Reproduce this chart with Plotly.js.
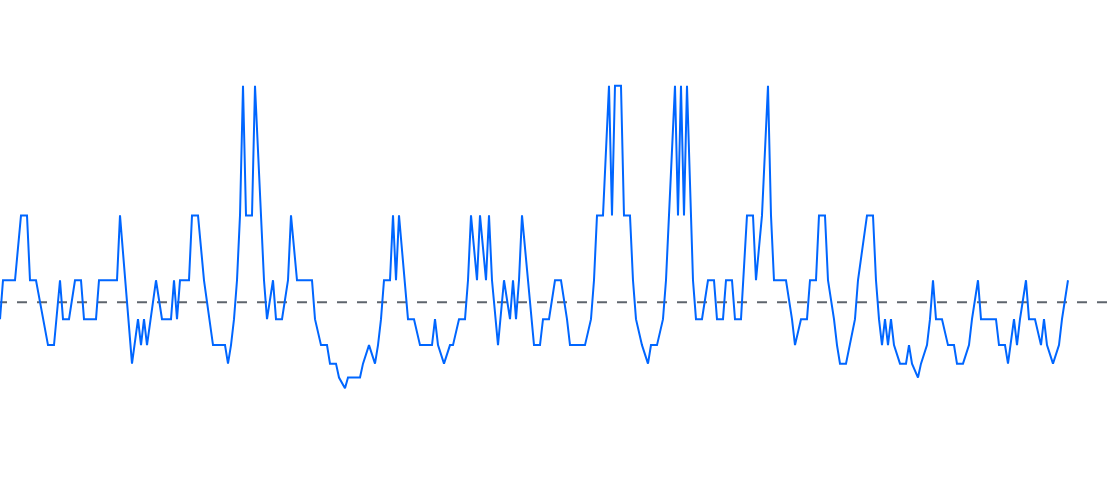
<!DOCTYPE html>
<html>
<head>
<meta charset="utf-8">
<script src="https://cdn.plot.ly/plotly-3.0.1.min.js"></script>
<style>
  html, body { margin: 0; padding: 0; background: #fff; }
  #chart { width: 1112px; height: 480px; }
</style>
</head>
<body>
<div id="chart"></div>
<script>
// sample index of each recorded point
var sample = [
  0, 1, 5, 7, 9, 10, 12, 16, 18, 20,
  21, 23, 25, 27, 28, 32, 33, 39, 40, 44,
  46, 47, 48, 49, 52, 54, 57, 58, 59, 60,
  63, 64, 66, 68, 71, 75, 76, 77, 78, 79,
  80, 81, 82, 84, 85, 88, 89, 91, 92, 94,
  96, 97, 99, 104, 105, 107, 109, 110, 112, 113,
  115, 116, 120, 121, 123, 125, 126, 127, 128, 130,
  131, 132, 133, 136, 138, 140, 144, 145, 146, 148,
  150, 151, 153, 155, 156, 157, 159, 160, 162, 163,
  164, 166, 168, 170, 171, 172, 173, 174, 178, 180,
  181, 183, 185, 187, 189, 190, 195, 197, 198, 199,
  201, 203, 204, 205, 207, 208, 210, 211, 212, 214,
  216, 217, 219, 221, 222, 225, 226, 227, 228, 229,
  231, 232, 234, 236, 238, 239, 241, 242, 244, 245,
  247, 249, 251, 252, 254, 256, 257, 258, 262, 264,
  265, 267, 269, 270, 272, 273, 275, 276, 278, 279,
  280, 282, 285, 286, 289, 291, 292, 293, 294, 295,
  296, 297, 298, 300, 302, 303, 304, 306, 307, 309,
  310, 311, 312, 314, 316, 318, 319, 321, 323, 324,
  326, 327, 332, 333, 335, 336, 338, 339, 340, 342,
  343, 345, 347, 348, 349, 351, 353, 354, 356
];

// frames (at 60 Hz) each sample took
var frames = [
  5, 4, 4, 3, 3, 4, 4, 6, 6, 4,
  5, 5, 4, 4, 5, 5, 4, 4, 3, 7,
  5, 6, 5, 6, 4, 5, 5, 4, 5, 4,
  4, 3, 3, 4, 6, 6, 7, 6, 5, 4,
  3, 2, 3, 3, 2, 4, 5, 4, 5, 5,
  4, 3, 4, 4, 5, 6, 6, 7, 7, 8,
  9, 8, 8, 7, 6, 7, 6, 5, 4, 4,
  3, 4, 3, 5, 5, 6, 6, 5, 6, 7,
  6, 6, 5, 5, 4, 3, 4, 3, 4, 3,
  4, 6, 4, 5, 4, 5, 4, 3, 6, 6,
  5, 5, 4, 4, 5, 6, 6, 5, 4, 3,
  3, 2, 3, 2, 2, 3, 3, 4, 5, 6,
  7, 6, 6, 5, 4, 2, 3, 2, 3, 2,
  4, 5, 5, 4, 4, 5, 5, 4, 4, 5,
  5, 3, 3, 4, 3, 2, 3, 4, 4, 5,
  6, 5, 5, 4, 4, 3, 3, 4, 5, 6,
  7, 7, 5, 4, 3, 3, 4, 5, 6, 5,
  6, 5, 6, 7, 7, 6, 7, 8, 7, 6,
  5, 4, 5, 5, 6, 6, 7, 7, 6, 5,
  4, 5, 5, 6, 6, 7, 5, 6, 5, 4,
  5, 5, 6, 5, 6, 7, 6, 5, 4
];

var refreshRate = 60;
var averageFps = 13.3;

var fps = frames.map(function (f) { return refreshRate / f; });

var data = [
  {
    x: sample,
    y: fps,
    type: "scatter",
    mode: "lines",
    line: { color: "#0066ff", width: 2 },
    hoverinfo: "skip"
  }
];

var layout = {
  width: 1112,
  height: 480,
  margin: { l: 0, r: 0, t: 0, b: 0 },
  paper_bgcolor: "#ffffff",
  plot_bgcolor: "#ffffff",
  showlegend: false,
  xaxis: { visible: false, range: [0, 370.67], fixedrange: true },
  yaxis: { visible: false, range: [-0.4, 36.61], fixedrange: true },
  shapes: [
    {
      type: "line",
      xref: "x",
      yref: "y",
      x0: -1,
      x1: 372,
      y0: averageFps,
      y1: averageFps,
      layer: "below",
      line: { color: "#5f656d", width: 2, dash: "10px,10px" }
    }
  ]
};

Plotly.newPlot("chart", data, layout, { displayModeBar: false, staticPlot: true });
</script>
</body>
</html>
